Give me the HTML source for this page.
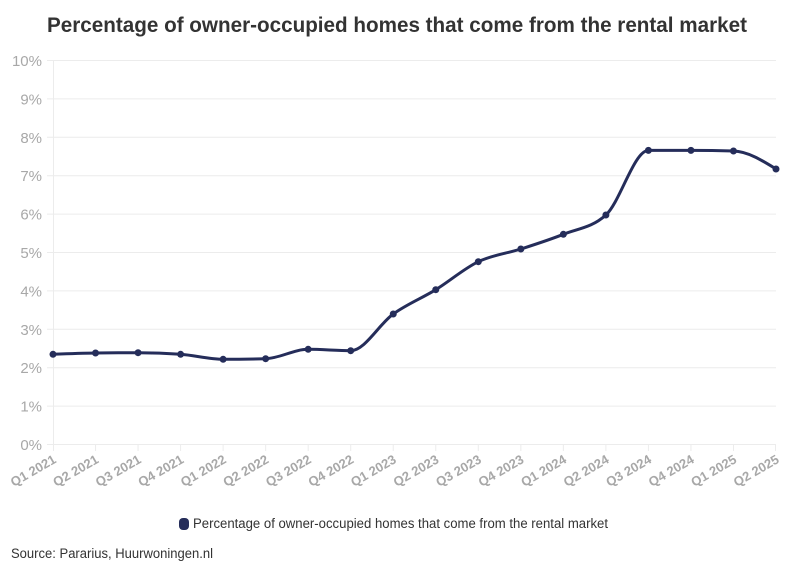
<!DOCTYPE html>
<html><head><meta charset="utf-8"><style>
html,body{margin:0;padding:0;background:#fff;width:794px;height:575px;overflow:hidden}
svg{display:block}
</style></head><body>
<svg width="794" height="575" viewBox="0 0 794 575" xmlns="http://www.w3.org/2000/svg">
<rect width="794" height="575" fill="#fff"/>
<text x="47" y="32" font-family="Liberation Sans, sans-serif" font-weight="bold" font-size="21.5" fill="#333" textLength="700" lengthAdjust="spacingAndGlyphs">Percentage of owner-occupied homes that come from the rental market</text>
<g stroke="#ececec" stroke-width="1">
<line x1="47" y1="60.5" x2="776" y2="60.5"/>
<line x1="47" y1="98.9" x2="776" y2="98.9"/>
<line x1="47" y1="137.3" x2="776" y2="137.3"/>
<line x1="47" y1="175.7" x2="776" y2="175.7"/>
<line x1="47" y1="214.1" x2="776" y2="214.1"/>
<line x1="47" y1="252.5" x2="776" y2="252.5"/>
<line x1="47" y1="290.9" x2="776" y2="290.9"/>
<line x1="47" y1="329.3" x2="776" y2="329.3"/>
<line x1="47" y1="367.7" x2="776" y2="367.7"/>
<line x1="47" y1="406.1" x2="776" y2="406.1"/>
<line x1="47" y1="444.5" x2="776" y2="444.5"/>
<line x1="53.5" y1="60" x2="53.5" y2="451"/>
<line x1="95.53" y1="444" x2="95.53" y2="451"/>
<line x1="138.06" y1="444" x2="138.06" y2="451"/>
<line x1="180.59" y1="444" x2="180.59" y2="451"/>
<line x1="223.12" y1="444" x2="223.12" y2="451"/>
<line x1="265.65" y1="444" x2="265.65" y2="451"/>
<line x1="308.18" y1="444" x2="308.18" y2="451"/>
<line x1="350.71" y1="444" x2="350.71" y2="451"/>
<line x1="393.24" y1="444" x2="393.24" y2="451"/>
<line x1="435.77" y1="444" x2="435.77" y2="451"/>
<line x1="478.3" y1="444" x2="478.3" y2="451"/>
<line x1="520.83" y1="444" x2="520.83" y2="451"/>
<line x1="563.36" y1="444" x2="563.36" y2="451"/>
<line x1="605.89" y1="444" x2="605.89" y2="451"/>
<line x1="648.42" y1="444" x2="648.42" y2="451"/>
<line x1="690.95" y1="444" x2="690.95" y2="451"/>
<line x1="733.48" y1="444" x2="733.48" y2="451"/>
<line x1="775.5" y1="444" x2="775.5" y2="451"/>
</g>
<g font-family="Liberation Sans, sans-serif" font-size="15" fill="#a8a8a8" text-anchor="end">
<text x="42" y="66">10%</text>
<text x="42" y="104.4">9%</text>
<text x="42" y="142.8">8%</text>
<text x="42" y="181.2">7%</text>
<text x="42" y="219.6">6%</text>
<text x="42" y="258">5%</text>
<text x="42" y="296.4">4%</text>
<text x="42" y="334.8">3%</text>
<text x="42" y="373.2">2%</text>
<text x="42" y="411.6">1%</text>
<text x="42" y="450">0%</text>
</g>
<g font-family="Liberation Sans, sans-serif" font-size="13" font-weight="bold" fill="#a8a8a8" text-anchor="end">
<text transform="translate(57,462) rotate(-30)">Q1 2021</text>
<text transform="translate(99.5,462) rotate(-30)">Q2 2021</text>
<text transform="translate(142,462) rotate(-30)">Q3 2021</text>
<text transform="translate(184.6,462) rotate(-30)">Q4 2021</text>
<text transform="translate(227.1,462) rotate(-30)">Q1 2022</text>
<text transform="translate(269.6,462) rotate(-30)">Q2 2022</text>
<text transform="translate(312.2,462) rotate(-30)">Q3 2022</text>
<text transform="translate(354.7,462) rotate(-30)">Q4 2022</text>
<text transform="translate(397.2,462) rotate(-30)">Q1 2023</text>
<text transform="translate(439.8,462) rotate(-30)">Q2 2023</text>
<text transform="translate(482.3,462) rotate(-30)">Q3 2023</text>
<text transform="translate(524.8,462) rotate(-30)">Q4 2023</text>
<text transform="translate(567.4,462) rotate(-30)">Q1 2024</text>
<text transform="translate(609.9,462) rotate(-30)">Q2 2024</text>
<text transform="translate(652.4,462) rotate(-30)">Q3 2024</text>
<text transform="translate(695,462) rotate(-30)">Q4 2024</text>
<text transform="translate(737.5,462) rotate(-30)">Q1 2025</text>
<text transform="translate(780,462) rotate(-30)">Q2 2025</text>
</g>
<path fill="none" stroke="#252d5a" stroke-width="3" stroke-linejoin="round" stroke-linecap="round" d="M53,354.3 C67.18,353.75 81.35,353.2 95.53,353 C109.71,352.8 123.88,352.7 138.06,352.7 C152.24,352.7 166.41,353.23 180.59,354.3 C194.77,355.37 208.94,359.3 223.12,359.3 C237.3,359.3 251.47,359.1 265.65,358.7 C279.83,358.3 294,349.3 308.18,349.3 C322.36,349.3 336.53,350.7 350.71,350.7 C364.89,350.7 379.06,324.17 393.24,314 C407.42,303.83 421.59,298.42 435.77,289.7 C449.95,280.98 464.12,268.48 478.3,261.7 C492.48,254.92 506.65,253.57 520.83,249 C535.01,244.43 549.18,239.97 563.36,234.3 C577.54,228.63 591.71,227.87 605.89,215 C620.07,202.13 634.24,150.4 648.42,150.4 C662.6,150.4 676.77,150.4 690.95,150.4 C705.13,150.4 719.3,150.6 733.48,151 C747.66,151.4 761.83,160.2 776.01,169"/>
<g fill="#252d5a">
<circle cx="53" cy="354.3" r="3.5"/>
<circle cx="95.53" cy="353" r="3.5"/>
<circle cx="138.06" cy="352.7" r="3.5"/>
<circle cx="180.59" cy="354.3" r="3.5"/>
<circle cx="223.12" cy="359.3" r="3.5"/>
<circle cx="265.65" cy="358.7" r="3.5"/>
<circle cx="308.18" cy="349.3" r="3.5"/>
<circle cx="350.71" cy="350.7" r="3.5"/>
<circle cx="393.24" cy="314" r="3.5"/>
<circle cx="435.77" cy="289.7" r="3.5"/>
<circle cx="478.3" cy="261.7" r="3.5"/>
<circle cx="520.83" cy="249" r="3.5"/>
<circle cx="563.36" cy="234.3" r="3.5"/>
<circle cx="605.89" cy="215" r="3.5"/>
<circle cx="648.42" cy="150.4" r="3.5"/>
<circle cx="690.95" cy="150.4" r="3.5"/>
<circle cx="733.48" cy="151" r="3.5"/>
<circle cx="776.01" cy="169" r="3.5"/>
</g>
<rect x="179" y="518" width="10" height="12" rx="4" ry="4" fill="#252d5a"/>
<text x="193" y="528" font-family="Liberation Sans, sans-serif" font-size="13.5" fill="#333" textLength="415" lengthAdjust="spacingAndGlyphs">Percentage of owner-occupied homes that come from the rental market</text>
<text x="11" y="558" font-family="Liberation Sans, sans-serif" font-size="13.5" fill="#333" textLength="202" lengthAdjust="spacingAndGlyphs">Source: Pararius, Huurwoningen.nl</text>
</svg>
</body></html>
